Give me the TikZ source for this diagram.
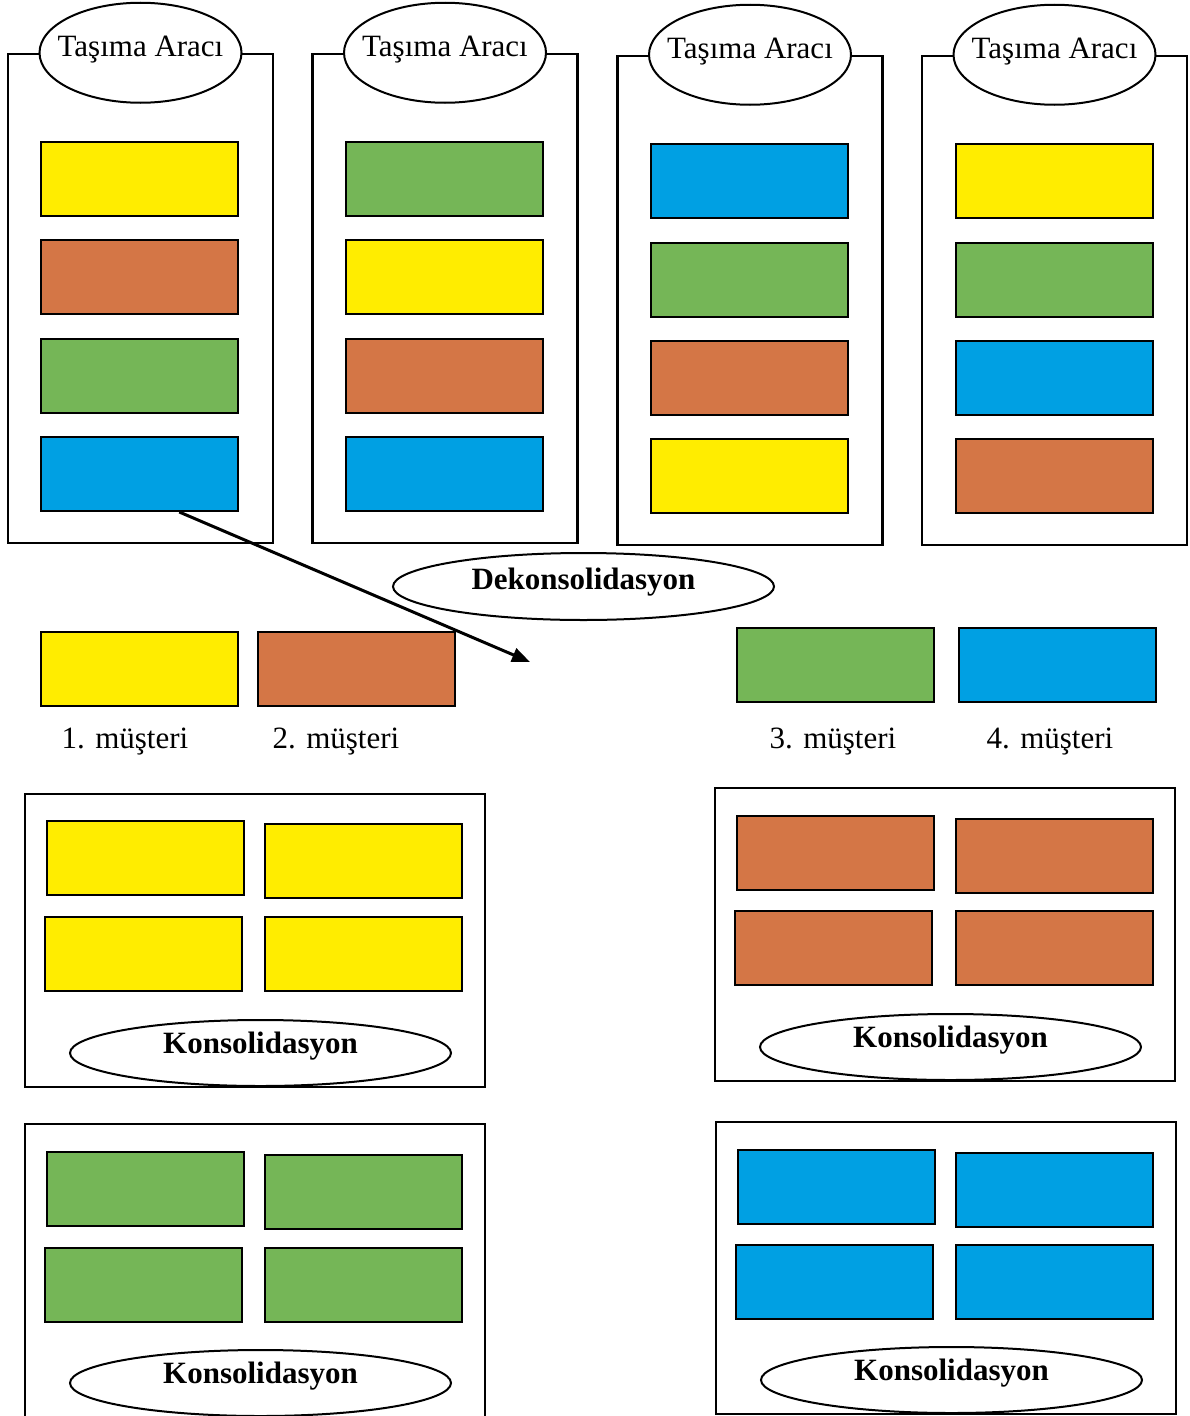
\documentclass[tikz,border=0pt]{standalone}
\usepackage{fontspec}
\setmainfont{Liberation Serif}
\usetikzlibrary{shapes.geometric,arrows.meta,calc}

\definecolor{sari}{RGB}{255,237,0}
\definecolor{turuncu}{RGB}{212,118,70}
\definecolor{yesil}{RGB}{117,182,87}
\definecolor{mavi}{RGB}{0,160,227}

\newcommand{\aracadi}{\makebox[138pt]{Taşıma Aracı}}

\begin{document}
\begin{tikzpicture}[x=1pt,y=-1pt,
    arac/.style={draw,line width=2.5pt,minimum width=265pt,minimum height=489pt,inner sep=0pt},
    depo/.style={draw,line width=2.5pt,minimum width=460pt,minimum height=293pt,inner sep=0pt},
    kutu/.style={draw,line width=2pt,minimum width=197pt,minimum height=74pt,inner sep=0pt},
    etiket/.style={ellipse,draw,fill=white,line width=2pt,inner sep=0pt,
        minimum width=202pt,minimum height=100pt,font=\fontsize{31}{37}\selectfont,
        text height=22pt,text depth=14pt},
    konsol/.style={ellipse,draw,fill=white,line width=2pt,inner sep=0pt,
        minimum width=381pt,minimum height=66pt,font=\fontsize{31}{37}\selectfont\bfseries,
        text height=22pt,text depth=22pt},
    yazi/.style={font=\fontsize{31}{37}\selectfont,inner sep=0pt}]
    \useasboundingbox (0,0) rectangle (1189,1416);

    % tasima araclari
    \node[arac] (arac1) at (140.5,298.5) {};
    \node[arac] (arac2) at (445,298.5) {};
    \node[arac] (arac3) at (750,300.5) {};
    \node[arac] (arac4) at (1054.5,300.5) {};
    \node[etiket] (ad1) at (arac1.north) {\aracadi};
    \node[etiket] (ad2) at (arac2.north) {\aracadi};
    \node[etiket] (ad3) at (arac3.north) {\aracadi};
    \node[etiket] (ad4) at (arac4.north) {\aracadi};

    \node[kutu,fill=sari] (k1a) at (139.5,179) {};
    \node[kutu,fill=turuncu] (k1b) at (139.5,277) {};
    \node[kutu,fill=yesil] (k1c) at (139.5,376) {};
    \node[kutu,fill=mavi] (k1d) at (139.5,474) {};

    \node[kutu,fill=yesil] (k2a) at (444.5,179) {};
    \node[kutu,fill=sari] (k2b) at (444.5,277) {};
    \node[kutu,fill=turuncu] (k2c) at (444.5,376) {};
    \node[kutu,fill=mavi] (k2d) at (444.5,474) {};

    \node[kutu,fill=mavi] (k3a) at (749.5,181) {};
    \node[kutu,fill=yesil] (k3b) at (749.5,280) {};
    \node[kutu,fill=turuncu] (k3c) at (749.5,378) {};
    \node[kutu,fill=sari] (k3d) at (749.5,476) {};

    \node[kutu,fill=sari] (k4a) at (1054.5,181) {};
    \node[kutu,fill=yesil] (k4b) at (1054.5,280) {};
    \node[kutu,fill=mavi] (k4c) at (1054.5,378) {};
    \node[kutu,fill=turuncu] (k4d) at (1054.5,476) {};

    % dekonsolidasyon
    \node[konsol,minimum height=67pt,text depth=16pt] (dekon) at (583.5,586.5) {Dekonsolidasyon};

    % musteriler
    \node[kutu,fill=sari] (m1) at (139.5,669) {};
    \node[kutu,fill=turuncu] (m2) at (356.5,669) {};
    \node[kutu,fill=yesil] (m3) at (835.5,665) {};
    \node[kutu,fill=mavi] (m4) at (1057.5,665) {};
    \node[yazi] (y1) at (125,742) {1. müşteri};
    \node[yazi] (y2) at (336,742) {2. müşteri};
    \node[yazi] (y3) at (833,742) {3. müşteri};
    \node[yazi] (y4) at (1050,742) {4. müşteri};

    \coordinate (uc) at (530,662);
    \draw[line width=3pt,-{Triangle[length=18pt,width=14pt]}]
        ($(k1d.south west)!0.7!(k1d.south east)$) -- (uc);

    % konsolidasyon
    \node[depo] (d1) at (255,940.5) {};
    \node[kutu,fill=sari] (d1a) at (145,858) {};
    \node[kutu,fill=sari] (d1b) at (363.5,861) {};
    \node[kutu,fill=sari] (d1c) at (143,954) {};
    \node[kutu,fill=sari] (d1d) at (363.5,954) {};
    \node[konsol] (ko1) at (260.5,1053) {Konsolidasyon};

    \node[depo] (d2) at (945,934.5) {};
    \node[kutu,fill=turuncu] (d2a) at (835.5,853) {};
    \node[kutu,fill=turuncu] (d2b) at (1054,856) {};
    \node[kutu,fill=turuncu] (d2c) at (833.5,948) {};
    \node[kutu,fill=turuncu] (d2d) at (1054,948) {};
    \node[konsol] (ko2) at (950.5,1047) {Konsolidasyon};

    \node[depo,minimum height=296pt] (d3) at (255,1272) {};
    \node[kutu,fill=yesil] (d3a) at (145.5,1189) {};
    \node[kutu,fill=yesil] (d3b) at (363.5,1192) {};
    \node[kutu,fill=yesil] (d3c) at (143.5,1285) {};
    \node[kutu,fill=yesil] (d3d) at (363.5,1285) {};
    \node[konsol] (ko3) at (260.5,1383) {Konsolidasyon};

    \node[depo,minimum height=292pt] (d4) at (946,1268) {};
    \node[kutu,fill=mavi] (d4a) at (836.5,1187) {};
    \node[kutu,fill=mavi] (d4b) at (1054.5,1190) {};
    \node[kutu,fill=mavi] (d4c) at (834.5,1282) {};
    \node[kutu,fill=mavi] (d4d) at (1054.5,1282) {};
    \node[konsol] (ko4) at (951.5,1380) {Konsolidasyon};
\end{tikzpicture}
\end{document}
